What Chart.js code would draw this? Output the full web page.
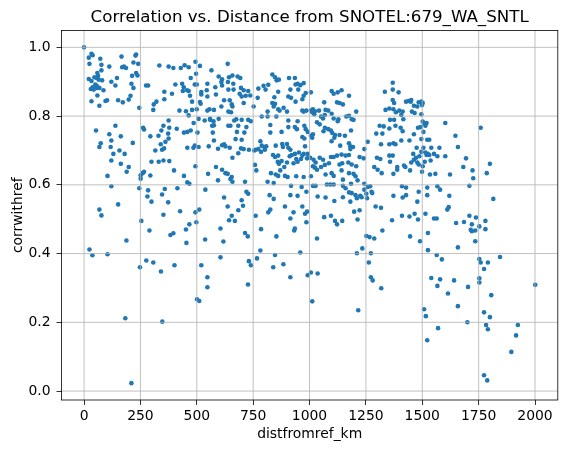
<!DOCTYPE html>
<html><head><meta charset="utf-8">
<script src="https://cdn.jsdelivr.net/npm/chart.js@4"></script>
<style>html,body{margin:0;padding:0;background:#fff}</style>
</head><body>
<canvas id="c" width="567" height="453" style="width:567px;height:453px;display:block"></canvas>
<script>
// ---- data (distance km, correlation) ----
const distA = [0,33,38,21,72,166,231,228,24,77,
112,169,177,186,219,240,77,59,62,56,
46,65,21,33,80,121,146,213,231,237,
50,56,38,30,43,56,68,86,139,210,
275,284,59,102,95,33,68,151,172,198,
206,219,245,309,321,356,356,307,334,375,
396,429,446,464,494,514,497,473,405,435,
442,457,438,390,464,491,500,520,520,470,
479,514,517,423,452,464,479,500,565,597,
612,609,547,582,612,544,585,547,621,609,
547,556,576,597,559,574,576];
const corrA = [1.0,0.981,0.977,0.970,0.967,0.973,0.979,0.976,0.952,0.949,
0.944,0.942,0.944,0.940,0.956,0.952,0.933,0.925,0.917,0.911,
0.913,0.906,0.908,0.902,0.904,0.900,0.911,0.917,0.925,0.918,
0.892,0.888,0.884,0.879,0.877,0.882,0.882,0.875,0.889,0.894,
0.889,0.889,0.860,0.846,0.844,0.843,0.830,0.846,0.840,0.848,
0.859,0.882,0.824,0.834,0.842,0.871,0.849,0.818,0.947,0.944,
0.940,0.940,0.948,0.942,0.958,0.946,0.923,0.911,0.892,0.894,
0.884,0.875,0.873,0.865,0.873,0.892,0.892,0.870,0.863,0.859,
0.842,0.841,0.836,0.816,0.814,0.802,0.818,0.820,0.933,0.915,
0.907,0.899,0.894,0.884,0.889,0.875,0.863,0.857,0.846,0.828,
0.816,0.820,0.818,0.792,0.792,0.785,0.773];

const distB = [53,68,74,112,121,118,139,163,157,180,
130,121,163,198,189,104,121,216,262,266,
294,260,266,251,251,294,299,316,331,340,
346,355,361,343,352,330,375,378,373,375,
352,378,399,411,443,458,467,443,458,473,
486,508,503,458,485,491,508,494,550,535,
559,568,571,576,553,594,612,621,627,585,
612,627,594,
245,284,281,299,346,358,414,373,352,426,
494,511,538,621,68,77,151];
const corrB = [0.758,0.710,0.721,0.747,0.729,0.710,0.772,0.741,0.700,0.690,
0.690,0.671,0.661,0.652,0.638,0.626,0.596,0.722,0.766,0.761,
0.741,0.634,0.638,0.628,0.618,0.627,0.667,0.700,0.667,0.718,
0.702,0.706,0.725,0.758,0.772,0.743,0.787,0.766,0.749,0.735,
0.671,0.669,0.642,0.763,0.626,0.607,0.603,0.752,0.754,0.758,
0.780,0.792,0.752,0.708,0.708,0.714,0.710,0.654,0.632,0.787,
0.789,0.772,0.752,0.729,0.712,0.705,0.715,0.718,0.712,0.652,
0.644,0.634,0.613,
0.590,0.584,0.566,0.551,0.572,0.588,0.590,0.549,0.513,0.523,
0.520,0.528,0.586,0.563,0.528,0.511,0.543];

const distC = [254,290,188,24,37,104,248,276,307,341,
401,383,396,452,467,454,498,520,547,547,
501,511,537,605,618,605,183,347,210];
const corrC = [0.495,0.467,0.438,0.412,0.395,0.398,0.360,0.380,0.374,0.348,
0.366,0.454,0.459,0.470,0.485,0.431,0.491,0.366,0.331,0.302,
0.267,0.262,0.441,0.473,0.435,0.389,0.212,0.202,0.023];

const distD = [637,638,658,681,643,662,693,640,663,696,
708,728,690,699,717,737,708,646,655,658,
752,652,640,675,666,699,728,740,640,649,
684,720,678,711,699,672,646,684,696,708,
731,761,658,637,773,796,817,805,835,847,
854,864,861,909,935,938,947,959,974,950,
915,906,918,938,968,974,983,1006,844,835,
847,841,861,867,885,900,814,788,814,853,
770,968,986,974,1006,1015,1024,1042,1012,1021,
1071,1083,1098,1051,1060,1068,1107,1125,1128,1163,
1175,1187,1195,1207,1065,1098,1107,1125,1142,1175,
1122,1133,1148,906,947,977,983,906,935,944,
992,1006,1012,1015,1033,1045,1068,1062,1083,1095,
1101,1113,1098,1110,1133,1157,1184,1175,1181,1193,
1181,1175,1160,1142,1122,1136,968,977,876,826,
826,782,788,799,808,802,785,773,755,850,
879,882,900,906,915,912,921,935,941,953,
980,974,992,968,838,847,861,859,864,876,
888,900,929,947,962,989,1003,1018,1027,1045,
1060,1015,1024,1033,1051,1068,1086,1095,1107,1133,
1145,1172,1187,1207,1222,1142,1175,1195,1204,1098,
1107,1071,1006,974,941,903,891,861,850,829,
870,764,758,814,841,918,965,1015,1027,1077,
1092,1107,1148,1148,1160,1184,1213,1243,1258,1243,
1252,1275,1269,1278,1255,1225,1204,1210,1231,1187,
1175,1181,1198,1222,1148,1110,1071,1036,986,947,
915,891,823,841,817,826,761,929,968,980,
989,1065,1095,1293,1317,1302,1320,1287,1299,1314,
1317,1296,1323,1311,1329,1337,1334,1258,1243,1240,
655,649,658,714,728,720,699,705,684,655,637];
const corrD = [0.952,0.899,0.918,0.915,0.913,0.894,0.911,0.877,0.877,0.882,
0.875,0.873,0.865,0.857,0.859,0.860,0.838,0.846,0.834,0.828,
0.828,0.811,0.813,0.791,0.787,0.789,0.789,0.785,0.772,0.772,
0.772,0.768,0.754,0.752,0.731,0.733,0.708,0.692,0.706,0.704,
0.702,0.702,0.679,0.632,0.880,0.888,0.891,0.877,0.921,0.913,
0.904,0.906,0.871,0.911,0.911,0.892,0.894,0.890,0.896,0.877,
0.877,0.857,0.853,0.842,0.849,0.859,0.867,0.869,0.855,0.838,
0.836,0.828,0.820,0.816,0.824,0.813,0.813,0.799,0.799,0.799,
0.853,0.816,0.816,0.813,0.816,0.820,0.814,0.816,0.811,0.805,
0.818,0.816,0.807,0.799,0.793,0.803,0.793,0.785,0.791,0.799,
0.801,0.791,0.789,0.813,0.840,0.873,0.865,0.869,0.875,0.859,
0.840,0.838,0.834,0.787,0.785,0.772,0.762,0.768,0.768,0.762,
0.754,0.743,0.737,0.747,0.782,0.776,0.766,0.756,0.762,0.758,
0.751,0.745,0.727,0.737,0.745,0.743,0.758,0.721,0.712,0.710,
0.704,0.687,0.685,0.688,0.685,0.714,0.739,0.735,0.754,0.774,
0.752,0.727,0.714,0.710,0.712,0.702,0.696,0.704,0.700,0.714,
0.719,0.710,0.719,0.708,0.702,0.683,0.687,0.690,0.675,0.694,
0.712,0.690,0.690,0.685,0.687,0.681,0.685,0.667,0.661,0.669,
0.652,0.665,0.663,0.667,0.675,0.677,0.679,0.673,0.665,0.679,
0.673,0.654,0.650,0.644,0.652,0.658,0.663,0.681,0.681,0.659,
0.663,0.665,0.659,0.654,0.681,0.642,0.634,0.632,0.625,0.634,
0.626,0.630,0.625,0.623,0.625,0.623,0.626,0.626,0.630,0.634,
0.642,0.642,0.658,0.609,0.605,0.597,0.594,0.597,0.597,0.601,
0.601,0.601,0.615,0.597,0.590,0.603,0.613,0.603,0.594,0.586,
0.574,0.580,0.596,0.576,0.561,0.568,0.570,0.561,0.564,0.576,
0.578,0.551,0.522,0.526,0.564,0.553,0.563,0.566,0.580,0.568,
0.570,0.537,0.570,0.559,0.520,0.528,0.510,0.520,0.537,0.516,
0.522,0.506,0.510,0.537,0.533,0.644,0.634,0.652,0.679,0.675,
0.718,0.749,0.749,0.772,0.770,0.818,0.871,0.725,0.704,0.677,
0.623,0.617,0.609,0.609,0.574,0.580,0.555,0.539,0.526,0.510,0.537];

const distE = [1369,1369,1395,1369,1375,1354,1372,1383,1398,1413,
1407,1428,1440,1451,1449,1463,1478,1484,1496,1502,
1499,1454,1466,1496,1357,1375,1416,1502,1508,1514,
1519,1481,1493,1381,1404,1413,1354,1505,1463,1443,
1407,1496,1522,1531,1372,1381,1354,1475,1505,1540,
1576,1514,1525,1519,1531,1552,1567,1496,1487,1472,
1460,1463,1451,1478,1484,1511,1502,1537,1369,1354,
1357,1389,1389,1419,1425,1446,1499,1534,1558,1372,
1602,1647,1658,1602,1694,1682,1723,1726,1623,1709,
1759,1786,1800,1815,1410,1428,1522,1567,1579,1372,
1413,1428,1484,1522,1620,1478,1617,1611,1410,1443,
1466,1514,1709];
const corrE = [0.897,0.877,0.869,0.847,0.838,0.822,0.820,0.811,0.816,0.813,
0.803,0.842,0.844,0.847,0.842,0.830,0.828,0.840,0.842,0.838,
0.832,0.813,0.809,0.805,0.789,0.789,0.791,0.784,0.778,0.772,
0.780,0.766,0.768,0.772,0.766,0.756,0.764,0.754,0.747,0.729,
0.729,0.733,0.731,0.731,0.721,0.718,0.718,0.708,0.708,0.708,
0.708,0.694,0.690,0.687,0.687,0.690,0.683,0.696,0.683,0.679,
0.690,0.673,0.665,0.665,0.659,0.667,0.654,0.671,0.685,0.685,
0.667,0.652,0.644,0.656,0.652,0.642,0.638,0.630,0.632,0.632,
0.780,0.743,0.710,0.683,0.677,0.652,0.642,0.619,0.630,0.597,
0.766,0.634,0.661,0.559,0.596,0.592,0.592,0.596,0.586,0.568,
0.563,0.570,0.580,0.570,0.568,0.551,0.535,0.528,0.510,0.508,
0.516,0.516,0.510];

const distF = [643,669,714,726,785,853,782,767,731,740,
847,839,884,915,727,915,986,935,932,959,
992,1006,1036,1033,1012,1113,1122,1145,1213,1210,
1234,1252,1266,1287,1323,1272,1263,1272,1280,1318,1216];
const corrF = [0.497,0.495,0.460,0.450,0.471,0.450,0.409,0.386,0.378,0.366,
0.396,0.360,0.369,0.331,0.310,0.502,0.491,0.473,0.467,0.403,
0.337,0.345,0.342,0.444,0.261,0.495,0.485,0.495,0.499,0.401,
0.415,0.451,0.448,0.444,0.467,0.401,0.374,0.331,0.322,0.299,0.235];

const distG = [1366,1481,1552,1564,1650,1685,1738,1780,1720,1715,
1720,1735,1753,1780,1446,1525,1490,1735,1658,1525,
1564,1587,1753,1759,1791,1774,1845,1540,1579,1567,
1641,1703,1753,1753,1614,1806,2001,1508,1516,1658,
1774,1800,1700,1570,1783,1791,1924,1916,1522,1895,1774,1788];
const corrG = [0.497,0.499,0.502,0.502,0.489,0.492,0.505,0.495,0.485,0.469,
0.465,0.467,0.479,0.471,0.450,0.460,0.436,0.436,0.418,0.410,
0.396,0.383,0.384,0.374,0.374,0.355,0.390,0.329,0.325,0.306,
0.322,0.303,0.328,0.316,0.284,0.279,0.309,0.238,0.218,0.247,
0.229,0.215,0.200,0.183,0.192,0.180,0.192,0.162,0.148,0.114,0.046,0.031];

const xTickValues = [0, 250, 500, 750, 1000, 1250, 1500, 1750, 2000];
const yTickValues = [0.0, 0.2, 0.4, 0.6, 0.8, 1.0];
const chartTitle = 'Correlation vs. Distance from SNOTEL:679_WA_SNTL';

// ---- build dataset ----
const distGroups = [distA, distB, distC, distD, distE, distF, distG];
const corrGroups = [corrA, corrB, corrC, corrD, corrE, corrF, corrG];
const pts = [];
distGroups.forEach((dg, gi) => {
  const cg = corrGroups[gi];
  const n = Math.min(dg.length, cg.length);
  for (let i = 0; i < n; i++) pts.push({x: dg[i], y: cg[i]});
});

const FONT = 'DejaVu Sans';
const TICK_SIZE = 13.9;

const frame = {
  id: 'frame',
  afterDatasetsDraw(chart) {
    const {ctx, chartArea: a, scales: {x, y}} = chart;
    ctx.save();
    ctx.beginPath();
    ctx.rect(a.left, a.top, a.right - a.left, a.bottom - a.top);
    ctx.clip();
    ctx.strokeStyle = '#b0b0b0';
    ctx.lineWidth = 0.8;
    xTickValues.forEach(v => {
      const p = x.getPixelForValue(v);
      ctx.beginPath(); ctx.moveTo(p, a.top); ctx.lineTo(p, a.bottom); ctx.stroke();
    });
    yTickValues.forEach(v => {
      const p = y.getPixelForValue(v);
      ctx.beginPath(); ctx.moveTo(a.left, p); ctx.lineTo(a.right, p); ctx.stroke();
    });
    ctx.restore();
    ctx.save();
    ctx.strokeStyle = '#000';
    ctx.lineWidth = 0.8;
    ctx.strokeRect(a.left, a.top, a.right - a.left, a.bottom - a.top);
    ctx.restore();
  },
  afterDraw(chart) {
    const {ctx, chartArea: a} = chart;
    ctx.save();
    ctx.fillStyle = '#000';
    ctx.font = '16.67px "DejaVu Sans"';
    ctx.textAlign = 'center';
    ctx.textBaseline = 'alphabetic';
    ctx.fillText(chartTitle, (a.left + a.right) / 2, 22);
    ctx.restore();
  }
};

new Chart(document.getElementById('c'), {
  type: 'scatter',
  data: {
    datasets: [{
      data: pts,
      backgroundColor: '#1f77b4',
      borderWidth: 0,
      pointRadius: 2.3,
      pointHoverRadius: 2.3
    }]
  },
  options: {
    responsive: false,
    devicePixelRatio: 1,
    animation: false,
    events: [],
    layout: {padding: {left: 0, right: 9.2, top: 30.5, bottom: 0}},
    plugins: {
      legend: {display: false},
      tooltip: {enabled: false},
      title: {display: false}
    },
    scales: {
      x: {
        type: 'linear',
        min: -100.05,
        max: 2101.05,
        afterBuildTicks: s => { s.ticks = xTickValues.map(v => ({value: v})); },
        afterFit: s => { s.height = 53; },
        ticks: {
          color: '#000',
          font: {family: FONT, size: TICK_SIZE},
          padding: 3,
          maxRotation: 0,
          autoSkip: false,
          callback: v => String(v)
        },
        grid: {drawOnChartArea: false, drawTicks: true, tickLength: 5, tickColor: '#000', tickWidth: 0.8},
        border: {display: false},
        title: {
          display: true,
          text: 'distfromref_km',
          color: '#000',
          font: {family: FONT, size: TICK_SIZE},
          padding: {top: 0, bottom: 10.5}
        }
      },
      y: {
        type: 'linear',
        min: -0.026,
        max: 1.049,
        afterBuildTicks: s => { s.ticks = yTickValues.map(v => ({value: v})); },
        afterFit: s => { s.width = 61.5; },
        ticks: {
          color: '#000',
          font: {family: FONT, size: TICK_SIZE},
          padding: 6,
          autoSkip: false,
          callback: v => Number(v).toFixed(1)
        },
        grid: {drawOnChartArea: false, drawTicks: true, tickLength: 5, tickColor: '#000', tickWidth: 0.8},
        border: {display: false},
        title: {
          display: true,
          text: 'corrwithref',
          color: '#000',
          font: {family: FONT, size: TICK_SIZE},
          padding: {top: 10.4, bottom: 0}
        }
      }
    }
  },
  plugins: [frame]
});
</script>
</body></html>
